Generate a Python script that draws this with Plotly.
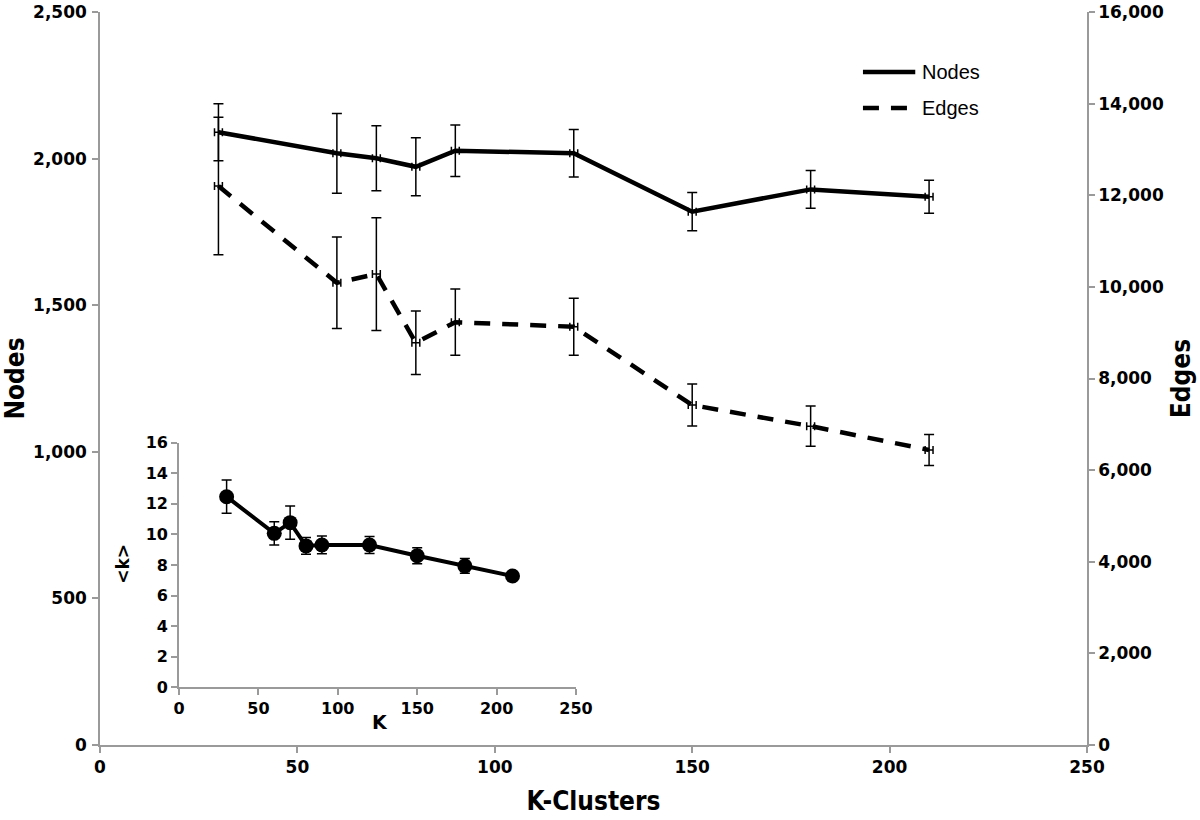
import plotly.graph_objects as go

# ---- data ----
k_clusters = [30, 60, 70, 80, 90, 120, 150, 180, 210]
nodes = [2090, 2018, 2001, 1972, 2027, 2018, 1819, 1895, 1870]
nodes_err = [97, 136, 111, 99, 88, 81, 65, 64, 56]
edges = [12200, 10090, 10280, 8780, 9230, 9130, 7420, 6960, 6440]
edges_err = [1500, 1000, 1230, 694, 724, 622, 458, 437, 338]
k_err_x = [1] * len(k_clusters)

mean_degree = [12.47, 10.07, 10.77, 9.25, 9.31, 9.31, 8.61, 7.94, 7.28]
mean_degree_err = [1.09, 0.76, 1.09, 0.55, 0.58, 0.55, 0.52, 0.48, 0.2]

legend_names = ["Nodes", "Edges"]

AX = "#9a9a9a"
TICKFONT = dict(family="DejaVu Sans, Liberation Sans, Arial, sans-serif", size=17, color="black", weight="bold")
INSET_TICKFONT = dict(family="DejaVu Sans, Liberation Sans, Arial, sans-serif", size=16, color="black", weight="bold")
TITLEFONT = dict(family="Liberation Sans Narrow, DejaVu Sans Condensed, Liberation Sans, Arial", size=26,
                 color="black", weight="bold")

fig = go.Figure()

fig.add_trace(go.Scatter(
    x=k_clusters, y=nodes, name=legend_names[0], mode="lines", showlegend=False,
    line=dict(color="black", width=4.5),
    error_y=dict(type="data", array=nodes_err, color="black", thickness=1.5, width=5),
    error_x=dict(type="data", array=k_err_x, color="black", thickness=1.5, width=4),
    xaxis="x", yaxis="y",
))
fig.add_trace(go.Scatter(
    x=k_clusters, y=edges, name=legend_names[1], mode="lines", showlegend=False,
    line=dict(color="black", width=4.5, dash="16px,12px"),
    error_y=dict(type="data", array=edges_err, color="black", thickness=1.5, width=5),
    error_x=dict(type="data", array=k_err_x, color="black", thickness=1.5, width=4),
    xaxis="x", yaxis="y2",
))
fig.add_trace(go.Scatter(
    x=k_clusters, y=mean_degree, name="<k>", mode="lines+markers", showlegend=False,
    line=dict(color="black", width=4),
    marker=dict(color="black", size=15),
    error_y=dict(type="data", array=mean_degree_err, color="black", thickness=1.5, width=5),
    xaxis="x3", yaxis="y3",
))

common = dict(showgrid=False, zeroline=False, showline=True, linecolor=AX, linewidth=1.5,
              ticks="outside", tickcolor=AX, ticklen=6, tickwidth=1.5, automargin=False)

# custom legend (line samples + labels)
LX0, LX1, LTX = 0.773, 0.826, 0.831
LY = [0.918, 0.869]
shapes = [
    dict(type="line", xref="paper", yref="paper", x0=LX0, x1=LX1, y0=LY[0], y1=LY[0],
         line=dict(color="black", width=4.5)),
    dict(type="line", xref="paper", yref="paper", x0=LX0, x1=LX1, y0=LY[1], y1=LY[1],
         line=dict(color="black", width=4.5, dash="16px,12px")),
]
LEGFONT = dict(family="Liberation Sans, Arial, sans-serif", size=20, color="black")
annotations = [
    dict(text=legend_names[0], xref="paper", yref="paper", x=LTX, y=LY[0], xanchor="left", yanchor="middle",
         showarrow=False, font=LEGFONT),
    dict(text=legend_names[1], xref="paper", yref="paper", x=LTX, y=LY[1], xanchor="left", yanchor="middle",
         showarrow=False, font=LEGFONT),
    dict(text="&lt;k&gt;", xref="paper", yref="paper", x=0.0238, y=0.248, xanchor="center", yanchor="middle",
         showarrow=False, textangle=-90,
         font=dict(family="DejaVu Sans, Liberation Sans, Arial", size=17, color="black", weight="bold")),
    dict(text="K", xref="paper", yref="paper", x=0.284, y=0.0314, xanchor="center", yanchor="middle",
         showarrow=False,
         font=dict(family="DejaVu Sans, Liberation Sans, Arial", size=19, color="black", weight="bold")),
]

fig.update_layout(
    width=1200, height=820,
    margin=dict(l=100, r=113, t=12, b=75),
    paper_bgcolor="white", plot_bgcolor="white",
    showlegend=False,
    xaxis=dict(range=[0, 250], dtick=50, domain=[0, 1], tickfont=TICKFONT, ticklabeloverflow="allow",
               title=dict(text="K-Clusters", font=TITLEFONT, standoff=16), **common),
    yaxis=dict(range=[0, 2500], dtick=500, tickformat=",", tickfont=TICKFONT, ticklabelstandoff=2,
               ticklabeloverflow="allow",
               title=dict(text="Nodes", font=TITLEFONT, standoff=7), **common),
    yaxis2=dict(range=[0, 16000], dtick=2000, tickformat=",", overlaying="y", side="right", tickfont=TICKFONT,
                ticklabeloverflow="allow",
                title=dict(text="Edges", font=TITLEFONT, standoff=9), **common),
    xaxis3=dict(range=[0, 250], dtick=50, domain=[0.080, 0.4823], anchor="y3", tickfont=INSET_TICKFONT, **common),
    yaxis3=dict(range=[0, 16], dtick=2, domain=[0.0787, 0.4124], anchor="x3", tickfont=INSET_TICKFONT, **common),
    shapes=shapes,
    annotations=annotations,
)

fig.write_html("out.html", config={"displayModeBar": False},
               post_script="document.body.style.margin='0px';")
